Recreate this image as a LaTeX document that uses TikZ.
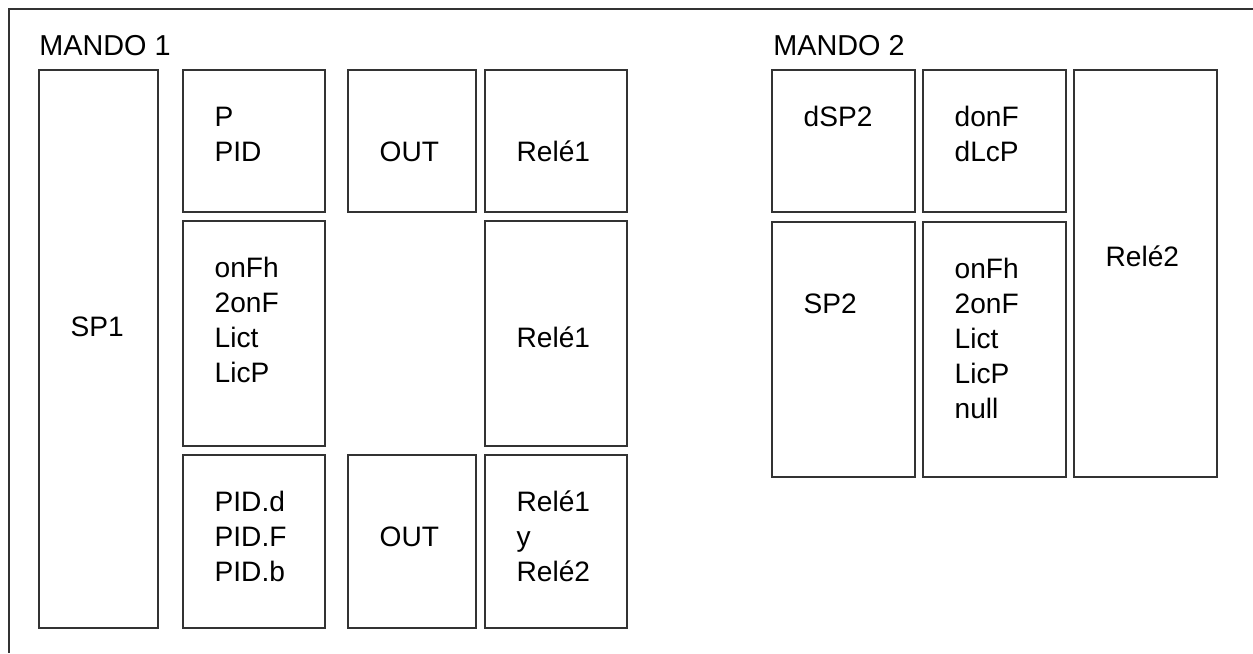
\documentclass[tikz,border=0pt]{standalone}
\usepackage{fontspec}
\setmainfont{Liberation Sans}
\usetikzlibrary{calc,fit}
\definecolor{edge}{HTML}{333333}
\tikzset{
  panel/.style={draw=edge, line width=.8pt, inner sep=0pt},
  frame/.style={draw=edge, line width=.8pt},
  txt/.style={anchor=base west, inner sep=0pt, align=left,
              font=\fontsize{16}{19.84}\selectfont},
  title/.style={anchor=base west, inner sep=0pt,
                font=\fontsize{16.4}{20}\selectfont}
}

\begin{document}
\begin{tikzpicture}[x=0.02cm, y=-0.02cm]
  \useasboundingbox (0,0) rectangle (1253,653);
  \draw[frame] (1253,9) -- (9,9) -- (9,653);

  % mando 1
  \node[title] (m1) at (39,55) {MANDO 1};
  \node[panel, fit={(39,70) (158,628)}] (sp1) {};
  \node[panel, fit={(183,70) (325,212)}] (ctrl) {};
  \node[panel, fit={(348,70) (476,212)}] (outa) {};
  \node[panel, fit={(485,70) (627,212)}] (rela) {};
  \node[panel, fit={(183,221) (325,446)}] (onoff) {};
  \node[panel, fit={(485,221) (627,446)}] (relb) {};
  \node[panel, fit={(183,455) (325,628)}] (pidx) {};
  \node[panel, fit={(348,455) (476,628)}] (outb) {};
  \node[panel, fit={(485,455) (627,628)}] (relc) {};

  % base of a multi-line text is its last line
  \node[txt] (sp1t) at ($(sp1.north west)+(32,57+35*6)$) {SP1};
  \node[txt] (ctrlt) at ($(ctrl.north west)+(32,57+35)$) {P\\PID};
  \node[txt] (outat) at ($(outa.north west)+(32,57+35)$) {OUT};
  \node[txt] (relat) at ($(rela.north west)+(32,57+35)$) {Relé1};
  \node[txt] (onofft) at ($(onoff.north west)+(32,57+35*3)$) {onFh\\2onF\\Lict\\LicP};
  \node[txt] (relbt) at ($(relb.north west)+(32,57+35*2)$) {Relé1};
  \node[txt] (pidxt) at ($(pidx.north west)+(32,57+35*2)$) {PID.d\\PID.F\\PID.b};
  \node[txt] (outbt) at ($(outb.north west)+(32,57+35)$) {OUT};
  \node[txt] (relct) at ($(relc.north west)+(32,57+35*2)$) {Relé1\\y\\Relé2};

  % mando 2
  \node[title] (m2) at (773,55) {MANDO 2};
  \node[panel, fit={(772,70) (915,212)}] (dsp) {};
  \node[panel, fit={(923,70) (1066,212)}] (donf) {};
  \node[panel, fit={(772,222) (915,477)}] (sp2) {};
  \node[panel, fit={(923,222) (1066,477)}] (onoffb) {};
  \node[panel, fit={(1074,70) (1217,477)}] (reld) {};

  \node[txt] (dspt) at ($(dsp.north west)+(32,57)$) {dSP2};
  \node[txt] (donft) at ($(donf.north west)+(32,57+35)$) {donF\\dLcP};
  \node[txt] (sp2t) at ($(sp2.north west)+(32,57+35)$) {SP2};
  \node[txt] (onoffbt) at ($(onoffb.north west)+(32,57+35*4)$) {onFh\\2onF\\Lict\\LicP\\null};
  \node[txt] (reldt) at ($(reld.north west)+(32,57+35*4)$) {Relé2};
\end{tikzpicture}
\end{document}
